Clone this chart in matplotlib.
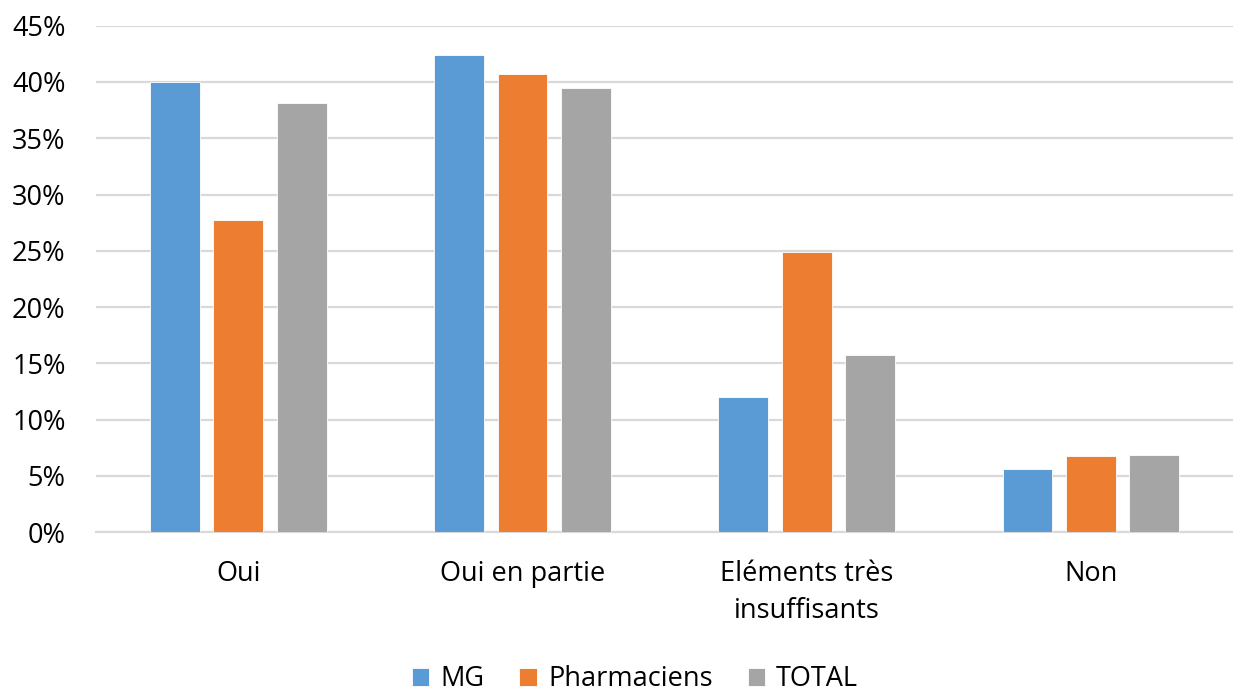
import numpy as np
import matplotlib.pyplot as plt
from matplotlib.ticker import PercentFormatter

plt.rcParams['font.family'] = ['Open Sans', 'DejaVu Sans']

categories = ['Oui', 'Oui en partie', 'Eléments très\ninsuffisants', 'Non']
series_names = ['MG', 'Pharmaciens', 'TOTAL']
mg = [40.0, 42.4, 12.0, 5.6]
pharmaciens = [27.7, 40.7, 24.9, 6.8]
total = [38.1, 39.5, 15.7, 6.9]
colors = ['#5b9bd5', '#ed7d31', '#a5a5a5']

fig = plt.figure(figsize=(12.33, 6.93), dpi=100)
ax = fig.add_axes([0.078, 0.232, 0.922, 0.731])

x = np.arange(len(categories))
step = 0.223
width = 0.175
for k, (vals, name, col) in enumerate(zip([mg, pharmaciens, total], series_names, colors)):
    ax.bar(x + (k - 1) * step, vals, width, color=col, label=name,
           edgecolor='white', linewidth=0.6, zorder=3)

ax.set_xlim(-0.5, len(categories) - 0.5)
ax.set_ylim(0, 45)
ax.set_yticks(np.arange(0, 46, 5))
ax.yaxis.set_major_formatter(PercentFormatter(decimals=0))
ax.grid(axis='y', color='#d9d9d9', linewidth=1.6, zorder=0)
ax.set_xticks(x)
ax.set_xticklabels(categories, fontsize=19.5, linespacing=1.45)
ax.tick_params(axis='y', labelsize=19.5, length=0, pad=22)
ax.tick_params(axis='x', length=0, pad=20)
for s in ['top', 'right', 'left']:
    ax.spines[s].set_visible(False)
ax.spines['bottom'].set_color('#d9d9d9')
ax.spines['bottom'].set_linewidth(1.6)

fig.legend(loc='center', bbox_to_anchor=(0.515, 0.02), ncol=3, frameon=False,
           fontsize=19.5, handlelength=0.65, handleheight=0.65, handletextpad=0.4,
           columnspacing=1.3)

fig.savefig('out.png', dpi=100)
